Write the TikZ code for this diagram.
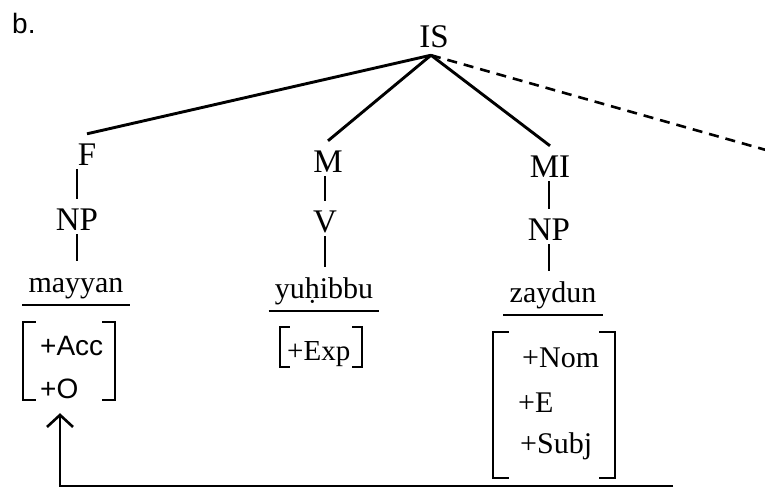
\documentclass[tikz,border=0pt]{standalone}
\usepackage{fontspec}
\setmainfont{Liberation Serif}
\setsansfont{Liberation Sans}
\usetikzlibrary{arrows.meta}
\tikzset{>=stealth}
\tikzset{%
    cat/.style={inner sep=4pt, text height=27pt, text depth=0pt, font=\fontsize{33}{38}\selectfont},
    word/.style={cat, inner xsep=6pt, text depth=9pt, font=\fontsize{30}{36}\selectfont},
    branch/.style={line width=2.9pt},
    omitted/.style={branch, line width=2.6pt, dash pattern=on 10pt off 7pt},
    stem/.style={line width=2pt},
    fbox/.style={inner sep=0pt},
    feat/.style={inner sep=0pt, anchor=base west, font=\sffamily\fontsize{28}{34}\selectfont},
    featrm/.style={feat, font=\fontsize{30}{36}\selectfont}
}
\newcommand{\featbrackets}[2][13pt]{%
    \draw[line width=2.2pt] ([xshift=#1]#2.north west) -- (#2.north west) -- (#2.south west) -- ([xshift=#1]#2.south west);
    \draw[line width=2.2pt] ([xshift=-#1]#2.north east) -- (#2.north east) -- (#2.south east) -- ([xshift=-#1]#2.south east);
}

\begin{document}
\begin{tikzpicture}[x=1pt,y=-1pt]
    \useasboundingbox (0,0) rectangle (765,501);
    \node[anchor=base west, inner sep=0pt, font=\sffamily\fontsize{28}{34}\selectfont] (lbl) at (12,33) {b.};

    % tree
    \node[cat, anchor=base] (is) at (434,47) {IS};
    \node[cat, anchor=base] (f) at (87,165) {F};
    \node[cat, anchor=base] (m) at (328,172) {M};
    \node[cat, anchor=base] (mi) at (550,177) {MI};
    \node[cat, anchor=base] (np1) at (77,230) {NP};
    \node[cat, anchor=base] (v) at (325,232) {V};
    \node[cat, anchor=base] (np2) at (549,240) {NP};
    \node[word, anchor=base] (mayyan) at (76,292) {mayyan};
    \node[word, anchor=base] (yuhibbu) at (324,298) {yuḥibbu};
    \node[word, anchor=base] (zaydun) at (553,302) {zaydun};

    \coordinate (top) at ([xshift=-3pt,yshift=-4pt]is.south);
    \coordinate (rest) at (766,150);
    \draw[branch] (top) -- (f.north);
    \draw[branch] (top) -- (m.north);
    \draw[branch] (top) -- (mi.north);
    \draw[omitted] (top) -- (rest);

    \draw[stem] (f.south -| np1) -- (np1.north);
    \draw[stem] (np1.south) -- (np1.south |- mayyan.north);
    \draw[stem] (m.south -| v) -- (v.north);
    \draw[stem] (v.south) -- (v.south |- yuhibbu.north);
    \draw[stem] (mi.south -| np2) -- (np2.north);
    \draw[stem] (np2.south) -- (np2.south |- zaydun.north);

    % underlines
    \draw[line width=2.4pt] (mayyan.south west) -- (mayyan.south east);
    \draw[line width=2.4pt] (yuhibbu.south west) -- (yuhibbu.south east);
    \draw[line width=2.4pt] (zaydun.south west) -- (zaydun.south east);

    % feature matrices
    \node[fbox, minimum width=92pt, minimum height=78pt] (accbox) at (69,361) {};
    \node[feat] (acc) at (40,355) {+Acc};
    \node[feat] (o) at (40,398) {+O};
    \featbrackets{accbox}

    \node[fbox, minimum width=82pt, minimum height=40pt] (expbox) at (321,347) {};
    \node[featrm, font=\fontsize{29}{34}\selectfont] (exp) at (287,360) {+Exp};
    \featbrackets[10pt]{expbox}

    \node[fbox, minimum width=122pt, minimum height=145pt] (nombox) at (554,405) {};
    \node[featrm] (nom) at (522,367) {+Nom};
    \node[featrm] (e) at (518,412) {+E};
    \node[featrm] (subj) at (520,453) {+Subj};
    \featbrackets[16pt]{nombox}

    % coindexing
    \coordinate (tail) at (673,486);
    \draw[line width=2.2pt, -{Straight Barb[length=12pt,width=26pt,line width=2.6pt]}] (tail) -| ([xshift=-9pt,yshift=-13pt]accbox.south);
\end{tikzpicture}
\end{document}
